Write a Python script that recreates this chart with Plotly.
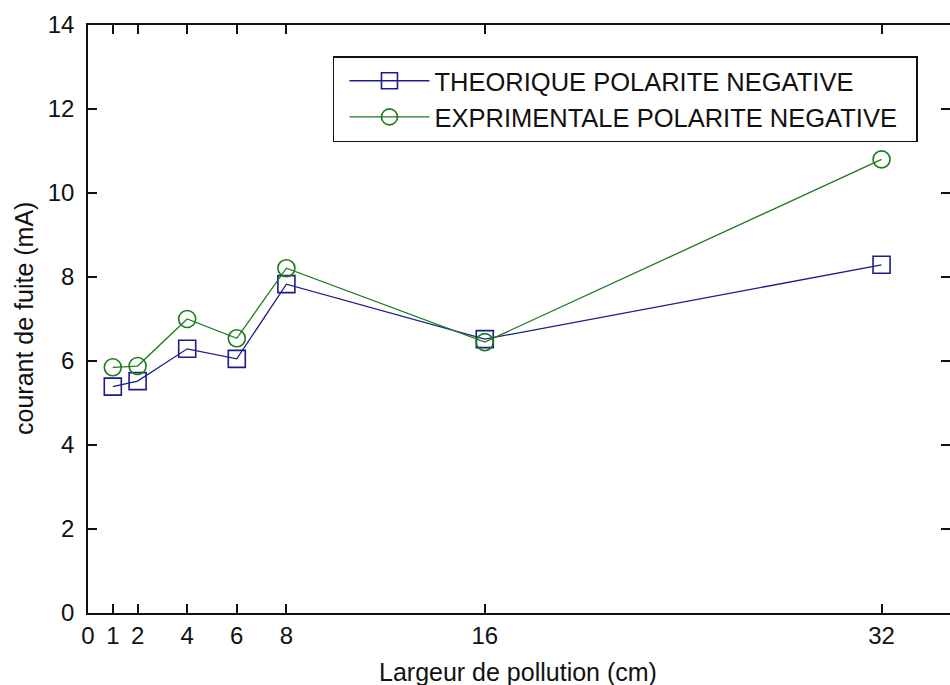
import plotly.graph_objects as go

# Data
largeur_cm = [1, 2, 4, 6, 8, 16, 32]
theorique = [5.39, 5.52, 6.29, 6.05, 7.83, 6.52, 8.29]
experimentale = [5.85, 5.88, 7.00, 6.54, 8.21, 6.45, 10.80]
x_ticks = [0, 1, 2, 4, 6, 8, 16, 32]
y_ticks = [0, 2, 4, 6, 8, 10, 12, 14]
series_names = ["THEORIQUE POLARITE NEGATIVE", "EXPRIMENTALE POLARITE NEGATIVE"]
x_title = "Largeur de pollution (cm)"
y_title = "courant de fuite (mA)"

FONT = "Liberation Sans, Arial, sans-serif"
BLUE = "#1c1c8a"
GREEN = "#1d7a1d"
PAD = "\u00a0\u00a0"

fig = go.Figure()
fig.add_trace(go.Scatter(
    x=largeur_cm, y=theorique, mode="lines+markers",
    name=series_names[0] + PAD,
    line=dict(color=BLUE, width=1.3),
    marker=dict(symbol="square-open", size=17, color=BLUE, line=dict(width=1.6, color=BLUE)),
))
fig.add_trace(go.Scatter(
    x=largeur_cm, y=experimentale, mode="lines+markers",
    name=series_names[1] + PAD,
    line=dict(color=GREEN, width=1.3),
    marker=dict(symbol="circle-open", size=17, color=GREEN, line=dict(width=1.6, color=GREEN)),
))

axis_common = dict(
    showline=True, linecolor="#111111", linewidth=1.5,
    ticks="inside", ticklen=9, tickwidth=1.5, tickcolor="#111111",
    mirror="ticks", showgrid=False, zeroline=False, automargin=False,
    tickfont=dict(family=FONT, size=24, color="#111111"),
)

fig.update_layout(
    width=950, height=685,
    margin=dict(l=88, r=0, t=25, b=72),
    paper_bgcolor="white", plot_bgcolor="white",
    font=dict(family=FONT, color="#111111"),
    xaxis=dict(
        range=[0, 34.76], tickmode="array", tickvals=x_ticks,
        ticktext=[str(v) for v in x_ticks], ticklabelstandoff=0,
        **axis_common,
    ),
    yaxis=dict(
        range=[0, 14], tickmode="array", tickvals=y_ticks,
        ticktext=[str(v) for v in y_ticks], ticklabelstandoff=7,
        **axis_common,
    ),
    legend=dict(
        x=0.2842, y=0.947, xanchor="left", yanchor="top",
        bgcolor="white", bordercolor="#111111", borderwidth=1.5,
        font=dict(family=FONT, size=25.5, color="#111111"),
        itemwidth=80, indentation=10,
    ),
    showlegend=True,
    annotations=[
        dict(
            text=x_title, xref="paper", yref="paper", x=0.4994, y=0,
            xanchor="center", yanchor="top", yshift=-43, showarrow=False,
            font=dict(family=FONT, size=25, color="#111111"),
        ),
        dict(
            text=y_title, xref="paper", yref="paper", x=0, y=0.5,
            xanchor="right", yanchor="middle", xshift=-48, showarrow=False,
            textangle=-90,
            font=dict(family=FONT, size=25, color="#111111"),
        ),
    ],
)

fig.write_html("out.html", config={"displayModeBar": False},
               post_script="document.body.style.margin='0';")
